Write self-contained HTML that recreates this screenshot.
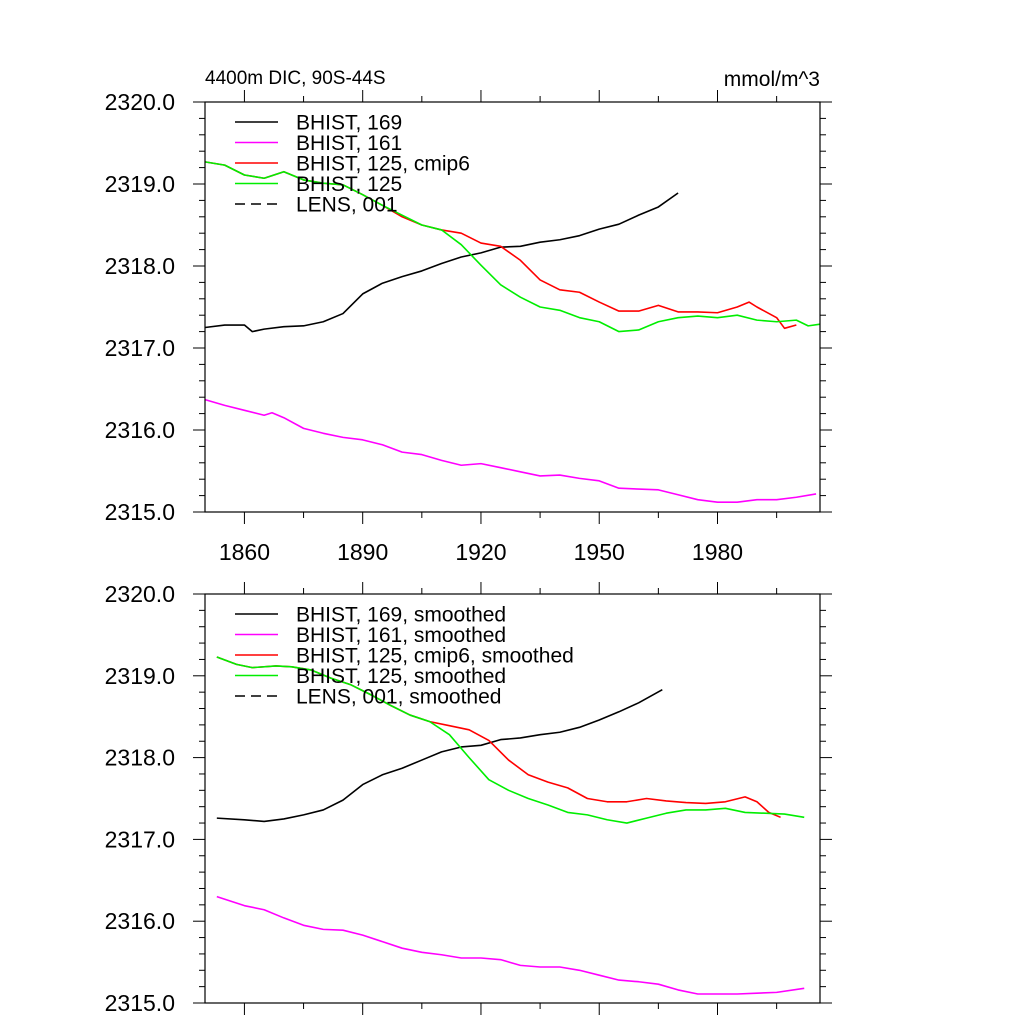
<!DOCTYPE html>
<html><head><meta charset="utf-8"><style>
body{margin:0;background:#fff}
text{font-family:"Liberation Sans",sans-serif;fill:#000}
</style></head><body>
<svg id="svg" width="1024" height="1024" xmlns="http://www.w3.org/2000/svg"></svg>
<script>
const yTicks=[2315,2316,2317,2318,2319,2320];
const xTicks=[1860,1890,1920,1950,1980];
// top panel
const t169Years=[1850,1855,1860,1862,1865,1870,1875,1880,1885,1890,1895,1900,1905,1910,1915,1920,1925,1930,1935,1940,1945,1950,1955,1960,1965,1970];
const t169Vals=[2317.25,2317.28,2317.28,2317.2,2317.23,2317.26,2317.27,2317.32,2317.42,2317.66,2317.79,2317.87,2317.94,2318.03,2318.11,2318.16,2318.23,2318.24,2318.29,2318.32,2318.37,2318.45,2318.51,2318.62,2318.72,2318.89];
const t161Years=[1850,1855,1860,1865,1867,1870,1875,1880,1885,1890,1895,1900,1905,1910,1915,1920,1925,1930,1935,1940,1945,1950,1955,1960,1965,1970,1975,1980,1985,1990,1995,2000,2005];
const t161Vals=[2316.37,2316.3,2316.24,2316.18,2316.21,2316.15,2316.02,2315.96,2315.91,2315.88,2315.82,2315.73,2315.7,2315.63,2315.57,2315.59,2315.54,2315.49,2315.44,2315.45,2315.41,2315.38,2315.29,2315.28,2315.27,2315.21,2315.15,2315.12,2315.12,2315.15,2315.15,2315.18,2315.22];
const t125Years=[1850,1855,1860,1865,1870,1875,1880,1885,1890,1895,1900,1905,1910,1915,1920,1925,1930,1935,1940,1945,1950,1955,1960,1965,1970,1975,1980,1985,1990,1995,2000,2003,2006];
const t125Vals=[2319.27,2319.23,2319.11,2319.07,2319.15,2319.05,2319.01,2318.99,2318.87,2318.74,2318.62,2318.5,2318.44,2318.26,2318.01,2317.77,2317.62,2317.5,2317.46,2317.37,2317.32,2317.2,2317.22,2317.32,2317.37,2317.39,2317.37,2317.4,2317.34,2317.32,2317.34,2317.27,2317.29];
const t125cYears=[1850,1855,1860,1865,1870,1875,1880,1885,1890,1895,1900,1905,1910,1915,1920,1925,1930,1935,1940,1945,1950,1955,1960,1965,1970,1975,1980,1985,1988,1990,1995,1997,2000];
const t125cVals=[2319.27,2319.23,2319.11,2319.07,2319.15,2319.05,2319.01,2318.99,2318.87,2318.74,2318.6,2318.5,2318.44,2318.4,2318.28,2318.24,2318.07,2317.83,2317.71,2317.68,2317.56,2317.45,2317.45,2317.52,2317.44,2317.44,2317.43,2317.5,2317.56,2317.5,2317.37,2317.24,2317.28];
// bottom panel (smoothed)
const s169Years=[1853,1860,1865,1870,1875,1880,1885,1890,1895,1900,1905,1910,1915,1920,1925,1930,1935,1940,1945,1950,1955,1960,1966];
const s169Vals=[2317.26,2317.24,2317.22,2317.25,2317.3,2317.36,2317.48,2317.67,2317.79,2317.87,2317.97,2318.07,2318.13,2318.15,2318.22,2318.24,2318.28,2318.31,2318.37,2318.46,2318.56,2318.67,2318.83];
const s161Years=[1853,1860,1865,1870,1875,1880,1885,1890,1895,1900,1905,1910,1915,1920,1925,1930,1935,1940,1945,1950,1955,1960,1965,1970,1975,1980,1985,1990,1995,2002];
const s161Vals=[2316.3,2316.19,2316.14,2316.04,2315.95,2315.9,2315.89,2315.83,2315.75,2315.67,2315.62,2315.59,2315.55,2315.55,2315.53,2315.46,2315.44,2315.44,2315.4,2315.34,2315.28,2315.26,2315.23,2315.16,2315.11,2315.11,2315.11,2315.12,2315.13,2315.18];
const s125Years=[1853,1858,1862,1868,1872,1877,1882,1887,1892,1897,1902,1907,1912,1917,1922,1927,1932,1937,1942,1947,1952,1957,1962,1967,1972,1977,1982,1987,1992,1997,2002];
const s125Vals=[2319.23,2319.14,2319.1,2319.12,2319.11,2319.07,2318.97,2318.89,2318.77,2318.64,2318.52,2318.44,2318.28,2318.0,2317.73,2317.6,2317.5,2317.42,2317.33,2317.3,2317.24,2317.2,2317.26,2317.32,2317.36,2317.36,2317.38,2317.33,2317.32,2317.31,2317.27];
const s125cYears=[1853,1858,1862,1868,1872,1877,1882,1887,1892,1897,1902,1907,1912,1917,1922,1927,1932,1937,1942,1947,1952,1957,1962,1967,1972,1977,1982,1987,1990,1993,1996];
const s125cVals=[2319.23,2319.14,2319.1,2319.12,2319.11,2319.07,2318.97,2318.89,2318.77,2318.64,2318.52,2318.44,2318.39,2318.34,2318.21,2317.97,2317.79,2317.7,2317.63,2317.5,2317.46,2317.46,2317.5,2317.47,2317.45,2317.44,2317.46,2317.52,2317.46,2317.33,2317.27];

const NS="http://www.w3.org/2000/svg";
const svg=document.getElementById('svg');
function el(tag,attrs,parent){const e=document.createElementNS(NS,tag);for(const k in attrs)e.setAttribute(k,attrs[k]);(parent||svg).appendChild(e);return e;}
const X0=205,X1=820,XMIN=1850,XMAX=2006;
function xs(v){return X0+(v-XMIN)/(XMAX-XMIN)*(X1-X0);}
function panel(top,bot,name,series,legend,showXLabels){
  const g=el('g',{});
  
  
  const ys=v=>bot-(v-2315)/5*(bot-top);
  series.forEach(s=>{
    const p=el('polyline',{fill:'none',stroke:s.c,'stroke-width':1.6,'stroke-linejoin':'round',points:s.x.map((x,i)=>xs(x)+','+ys(s.y[i])).join(' ')},g);
    
    
  });
  const fr=el('rect',{x:X0,y:top,width:X1-X0,height:bot-top,fill:'none',stroke:'#000','stroke-width':1.2},g);
  
  
  for(let v=2315;v<=2320.001;v+=0.2){
    const maj=Math.abs(v-Math.round(v))<1e-6, L=maj?12:6, y=ys(v);
    el('line',{x1:X0-L,x2:X0,y1:y,y2:y,stroke:'#000','stroke-width':1},g);
    el('line',{x1:X1,x2:X1+L,y1:y,y2:y,stroke:'#000','stroke-width':1},g);
  }
  yTicks.forEach(v=>{
    const t=el('text',{x:175,y:ys(v)+8,'text-anchor':'end','font-size':23},g);
    t.textContent=v.toFixed(1);
    
    
  });
  for(let v=1860;v<=2005;v+=15){
    const maj=xTicks.includes(v), L=maj?12:6, x=xs(v);
    el('line',{x1:x,x2:x,y1:bot,y2:bot+L,stroke:'#000','stroke-width':1},g);
    el('line',{x1:x,x2:x,y1:top-L,y2:top,stroke:'#000','stroke-width':1},g);
  }
  if(showXLabels) xTicks.forEach(v=>{
    const t=el('text',{x:xs(v),y:bot+48,'text-anchor':'middle','font-size':23},g);
    t.textContent=v;
    
    
  });
  legend.forEach((l,i)=>{
    const y=top+20+i*20.5;
    const ln=el('line',{x1:235,x2:278,y1:y,y2:y,stroke:l.c,'stroke-width':1.6,'stroke-dasharray':l.d?'10,6':''},g);
    
    
    const t=el('text',{x:296,y:y+7.5,'font-size':21},g);
    t.textContent=l.t;
    
    
  });
}
panel(102,512,'top-panel',[
 {n:'series-bhist-169',c:'#000',x:t169Years,y:t169Vals},
 {n:'series-bhist-161',c:'#ff00ff',x:t161Years,y:t161Vals},
 {n:'series-bhist-125-cmip6',c:'#ff0000',x:t125cYears,y:t125cVals},
 {n:'series-bhist-125',c:'#00ee00',x:t125Years,y:t125Vals}],
 [{t:'BHIST, 169',c:'#000'},{t:'BHIST, 161',c:'#ff00ff'},{t:'BHIST, 125, cmip6',c:'#ff0000'},{t:'BHIST, 125',c:'#00ee00'},{t:'LENS, 001',c:'#000',d:1}],true);
panel(594,1003,'bottom-panel',[
 {n:'series-bhist-169-smoothed',c:'#000',x:s169Years,y:s169Vals},
 {n:'series-bhist-161-smoothed',c:'#ff00ff',x:s161Years,y:s161Vals},
 {n:'series-bhist-125-cmip6-smoothed',c:'#ff0000',x:s125cYears,y:s125cVals},
 {n:'series-bhist-125-smoothed',c:'#00ee00',x:s125Years,y:s125Vals}],
 [{t:'BHIST, 169, smoothed',c:'#000'},{t:'BHIST, 161, smoothed',c:'#ff00ff'},{t:'BHIST, 125, cmip6, smoothed',c:'#ff0000'},{t:'BHIST, 125, smoothed',c:'#00ee00'},{t:'LENS, 001, smoothed',c:'#000',d:1}],false);
const t1=el('text',{x:205,y:84,'font-size':19});
t1.textContent='4400m DIC, 90S-44S';


const t2=el('text',{x:820,y:86,'font-size':21,'text-anchor':'end'});
t2.textContent='mmol/m^3';


</script>
</body></html>
